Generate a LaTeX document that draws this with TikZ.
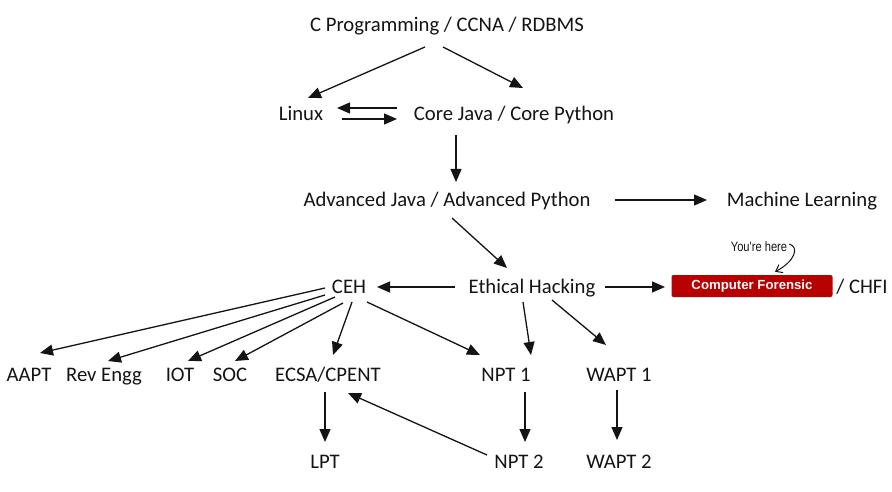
\documentclass[tikz,border=0pt]{standalone}
\usepackage{fontspec}
\setmainfont{Carlito}
\newfontfamily\arialfont{Liberation Sans}
\newfontfamily\narrowfont[FakeStretch=0.82]{Liberation Sans}
\usetikzlibrary{arrows.meta,calc}
\definecolor{txt}{RGB}{20,20,20}
\definecolor{cfred}{RGB}{185,0,0}
\tikzset{
  lbl/.style={inner sep=0pt, text height=13pt, text depth=0pt, anchor=center, text=txt,
    font=\fontsize{20.7}{24}\selectfont},
  arr/.style={line width=1.3pt, draw=txt, -{Triangle[length=13pt,width=11pt]}},
  cfbox/.style={fill=cfred, rounded corners=2pt, minimum width=161pt, minimum height=22pt,
    inner sep=0pt, text=white, font=\arialfont\bfseries\fontsize{13.2}{15}\selectfont},
  herelbl/.style={inner sep=0pt, text=txt, font=\narrowfont\fontsize{13.6}{15}\selectfont},
  herearr/.style={line width=1pt, draw=txt, -{Straight Barb[length=6pt,width=9pt]}}
}
\begin{document}
\begin{tikzpicture}[x=1pt,y=-1pt]
\useasboundingbox (0,0) rectangle (892,492);
\fill[white] (0,0) rectangle (892,492);
% nodes
\node[lbl] (title) at (447,25) {C Programming / CCNA / RDBMS};
\node[lbl] (linux) at (301,114) {Linux};
\node[lbl] (core) at (514,114) {Core Java / Core Python};
\node[lbl] (adv) at (447,200) {Advanced Java / Advanced Python};
\node[lbl] (ml) at (802,200) {Machine Learning};
\node[lbl] (ceh) at (349,287) {CEH};
\node[lbl] (eth) at (532,287) {Ethical Hacking};
\node[cfbox] (cf) at (752,286) {Computer Forensic};
\node[lbl] (chfi) at (862,287) {/ CHFI};
\node[herelbl] (here) at (759,247) {You're here};
\node[lbl] (aapt) at (29,375) {AAPT};
\node[lbl] (rev) at (104,375) {Rev Engg};
\node[lbl] (iot) at (180,375) {IOT};
\node[lbl] (soc) at (230,375) {SOC};
\node[lbl] (ecsa) at (328,375) {ECSA/CPENT};
\node[lbl] (npt1) at (506,375) {NPT 1};
\node[lbl] (wapt1) at (619,375) {WAPT 1};
\node[lbl] (lpt) at (325,462) {LPT};
\node[lbl] (npt2) at (519,462) {NPT 2};
\node[lbl] (wapt2) at (619,462) {WAPT 2};
% connectors
\draw[arr] ($(title)+(-22,22)$) -- ($(linux)+(7,-16)$);
\draw[arr] ($(title)+(-4,22)$) -- ($(core)+(9,-26)$);
\draw[arr] ($(core)+(-117,-6)$) -- ($(linux)+(36,-6)$);
\draw[arr] ($(linux)+(41,5)$) -- ($(core)+(-117,5)$);
\draw[arr] ($(core)+(-58,21)$) -- ($(adv)+(9,-18)$);
\draw[arr] ($(adv)+(168,0)$) -- ($(ml)+(-95,0)$);
\draw[arr] ($(adv)+(5,18)$) -- ($(eth)+(-25,-19)$);
\draw[arr] ($(eth)+(-77,0)$) -- ($(ceh)+(28,0)$);
\draw[arr] ($(eth)+(73,0)$) -- ($(cf)+(-87,1)$);
\draw[arr] ($(ceh)+(-24,1)$) -- ($(aapt)+(11,-22)$);
\draw[arr] ($(ceh)+(-24,8)$) -- ($(rev)+(4,-14)$);
\draw[arr] ($(ceh)+(-14,10)$) -- ($(iot)+(8,-14)$);
\draw[arr] ($(ceh)+(-6,16)$) -- ($(soc)+(5,-14)$);
\draw[arr] ($(ceh)+(3,15)$) -- ($(ecsa)+(5,-20)$);
\draw[arr] ($(ceh)+(18,15)$) -- ($(npt1)+(-26,-20)$);
\draw[arr] ($(eth)+(-9,15)$) -- ($(npt1)+(25,-20)$);
\draw[arr] ($(eth)+(20,13)$) -- ($(wapt1)+(-13,-30)$);
\draw[arr] ($(ecsa)+(-3,17)$) -- ($(lpt)+(0,-20)$);
\draw[arr] ($(npt2)+(-32,-7)$) -- ($(ecsa)+(20,18)$);
\draw[arr] ($(npt1)+(19,17)$) -- ($(npt2)+(6,-20)$);
\draw[arr] ($(wapt1)+(-2,15)$) -- ($(wapt2)+(-2,-22)$);
\draw[herearr] ($(here.east)+(2,-3)$) .. controls ($(here.east)+(12,0)$) and ($(here.east)+(8,14)$) .. ($(cf.north)+(23,-3)$);
\end{tikzpicture}
\end{document}
